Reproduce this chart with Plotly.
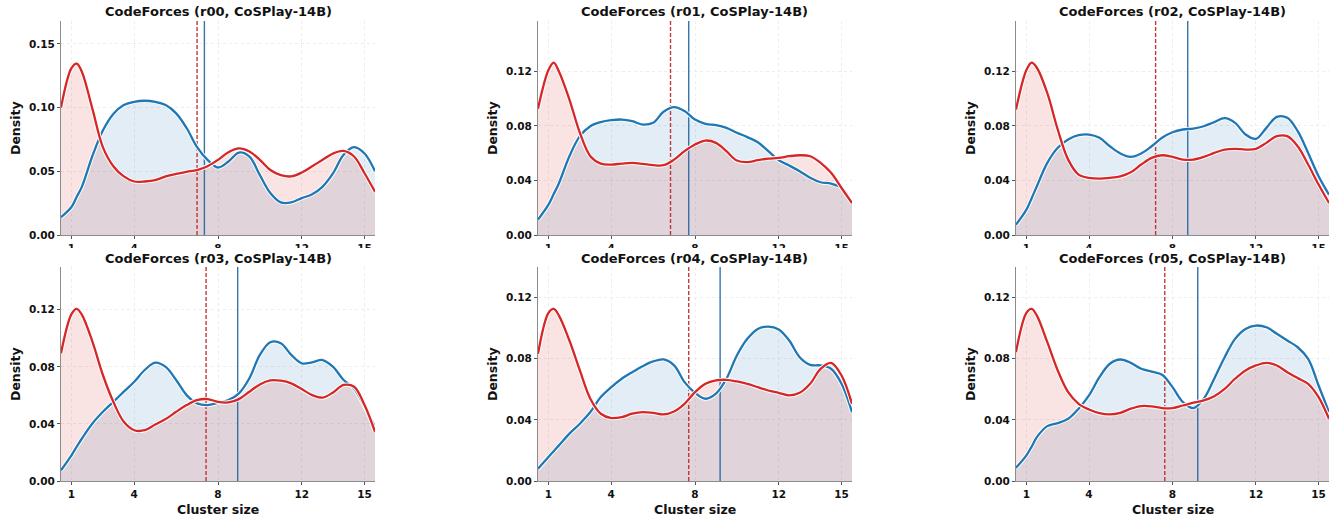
import plotly.graph_objects as go

# Evaluation grid of cluster sizes for the density curves
cluster_size = [0.5, 1.0, 1.25, 1.5, 2.0, 2.5, 3.0, 3.5, 4.0, 4.5, 5.0, 5.5, 6.0, 6.5, 7.0, 7.5, 8.0,
                8.5, 9.0, 9.5, 10.0, 10.5, 11.0, 11.5, 12.0, 12.5, 13.0, 13.5, 14.0, 14.5, 15.0, 15.5]

run_labels = ["r00", "r01", "r02", "r03", "r04", "r05"]

# Blue density curves, one per run
blue_r00 = [0.014, 0.022, 0.030, 0.038, 0.062, 0.082, 0.095, 0.102, 0.1046, 0.1054, 0.1046, 0.102,
            0.0955, 0.084, 0.069, 0.059, 0.053, 0.0577, 0.0647, 0.0616, 0.047, 0.033, 0.0256, 0.0256,
            0.029, 0.032, 0.038, 0.0485, 0.063, 0.069, 0.064, 0.050]
blue_r01 = [0.0113, 0.0223, 0.030, 0.038, 0.0578, 0.0725, 0.0798, 0.0828, 0.0842, 0.0847, 0.0835,
            0.081, 0.0823, 0.0904, 0.0938, 0.0909, 0.0847, 0.0816, 0.0806, 0.0786, 0.075, 0.0718,
            0.068, 0.0615, 0.0549, 0.051, 0.0468, 0.042, 0.0387, 0.0377, 0.0345, 0.0235]
blue_r02 = [0.0076, 0.0186, 0.027, 0.0358, 0.0529, 0.064, 0.070, 0.0732, 0.0737, 0.0713, 0.0651,
            0.0598, 0.0573, 0.0598, 0.0651, 0.0713, 0.0754, 0.0774, 0.0781, 0.0798, 0.0828, 0.0857,
            0.0823, 0.0737, 0.0705, 0.0786, 0.0867, 0.086, 0.0762, 0.0602, 0.0431, 0.0296]
blue_r03 = [0.0075, 0.018, 0.024, 0.0298, 0.0403, 0.0485, 0.0555, 0.0626, 0.0696, 0.0778, 0.083,
            0.080, 0.0708, 0.0602, 0.0544, 0.0532, 0.0548, 0.0567, 0.0614, 0.072, 0.0884, 0.0973,
            0.0966, 0.0884, 0.0825, 0.0832, 0.0848, 0.080, 0.0708, 0.0649, 0.052, 0.038]
blue_r04 = [0.008, 0.0157, 0.0195, 0.0233, 0.031, 0.0375, 0.0451, 0.0549, 0.0614, 0.0669, 0.0712,
            0.0751, 0.0782, 0.0795, 0.0756, 0.0647, 0.0577, 0.0538, 0.0571, 0.0669, 0.0821, 0.093,
            0.0995, 0.101, 0.0991, 0.0919, 0.081, 0.076, 0.0756, 0.0734, 0.0636, 0.0451]
blue_r05 = [0.0087, 0.0168, 0.0225, 0.0287, 0.0359, 0.0379, 0.0407, 0.0473, 0.056, 0.0679, 0.0767,
            0.0795, 0.0773, 0.0734, 0.0716, 0.0695, 0.0614, 0.0516, 0.0477, 0.0538, 0.0669, 0.081,
            0.093, 0.0995, 0.1017, 0.1006, 0.0963, 0.0919, 0.0875, 0.0799, 0.0625, 0.0451]

# Red density curves, one per run
red_r00 = [0.100, 0.131, 0.1346, 0.128, 0.099, 0.069, 0.054, 0.046, 0.042, 0.042, 0.043, 0.046,
           0.048, 0.0496, 0.051, 0.054, 0.059, 0.065, 0.068, 0.0655, 0.059, 0.051, 0.047, 0.046,
           0.049, 0.054, 0.059, 0.064, 0.066, 0.0616, 0.0485, 0.034]
red_r01 = [0.0926, 0.121, 0.1264, 0.120, 0.0994, 0.075, 0.0578, 0.0524, 0.0517, 0.0524, 0.0529,
           0.0522, 0.0512, 0.0512, 0.0553, 0.0615, 0.0664, 0.0693, 0.0676, 0.0615, 0.0546, 0.0534,
           0.0549, 0.056, 0.0566, 0.0578, 0.0585, 0.0578, 0.0529, 0.0456, 0.0345, 0.0235]
red_r02 = [0.092, 0.121, 0.1264, 0.1227, 0.104, 0.0774, 0.0553, 0.0443, 0.0419, 0.0414, 0.0419,
           0.043, 0.046, 0.0517, 0.0566, 0.0585, 0.0573, 0.0553, 0.0553, 0.0573, 0.0602, 0.0627,
           0.0632, 0.0627, 0.0632, 0.0676, 0.0725, 0.0725, 0.0651, 0.0517, 0.037, 0.0235]
red_r03 = [0.0895, 0.117, 0.1207, 0.1165, 0.0977, 0.0743, 0.0555, 0.0415, 0.0356, 0.0356, 0.0396,
           0.0434, 0.0485, 0.0532, 0.0567, 0.0574, 0.0555, 0.0551, 0.0574, 0.0626, 0.0677, 0.0705,
           0.0703, 0.0684, 0.0644, 0.0602, 0.0584, 0.0621, 0.0673, 0.0661, 0.0532, 0.0345]
red_r04 = [0.0832, 0.110, 0.1126, 0.1082, 0.0919, 0.0723, 0.0538, 0.044, 0.0412, 0.0418, 0.044,
           0.0451, 0.0446, 0.0436, 0.0455, 0.0505, 0.0581, 0.0636, 0.0658, 0.0662, 0.0651, 0.0636,
           0.0614, 0.0592, 0.0577, 0.056, 0.0577, 0.0636, 0.0734, 0.0773, 0.069, 0.0505]
red_r05 = [0.0843, 0.110, 0.1126, 0.1082, 0.0908, 0.0723, 0.0581, 0.0505, 0.0468, 0.0444, 0.0436,
           0.0446, 0.0473, 0.049, 0.0488, 0.0477, 0.0477, 0.0494, 0.0512, 0.0527, 0.0555, 0.0603,
           0.0669, 0.0723, 0.0756, 0.0773, 0.0756, 0.0712, 0.0673, 0.0636, 0.0549, 0.0407]

# Mean cluster size per run (vertical reference lines)
blue_mean = [7.35, 7.70, 8.73, 8.94, 9.20, 9.21]
red_mean = [7.00, 6.83, 7.19, 7.43, 7.70, 7.63]

# Upper limit of each density axis
density_top = [0.168, 0.157, 0.157, 0.150, 0.140, 0.140]
density_ticks = [[0.0, 0.05, 0.10, 0.15]] + [[0.0, 0.04, 0.08, 0.12]] * 5
size_ticks = [1, 4, 8, 12, 15]

blue_series = [blue_r00, blue_r01, blue_r02, blue_r03, blue_r04, blue_r05]
red_series = [red_r00, red_r01, red_r02, red_r03, red_r04, red_r05]

W, H = 1343, 523
BLUE = "#1f77b4"
RED = "#d62728"
FONT = "DejaVu Sans"

# Plot-area boxes in pixels: (left, right) per column, (top, bottom) per row
col_px = [(61, 375), (538, 852), (1016, 1329)]
row_px = [(21, 235), (267, 481)]

fig = go.Figure()
annotations = []

for i in range(6):
    r, c = divmod(i, 3)
    n = i + 1
    xa = "x" if n == 1 else f"x{n}"
    ya = "y" if n == 1 else f"y{n}"
    (xl, xr), (yt, yb) = col_px[c], row_px[r]
    xdom = [xl / W, xr / W]
    ydom = [1 - yb / H, 1 - yt / H]

    # filled areas first so that every outline stays on top
    fig.add_trace(go.Scatter(x=cluster_size, y=blue_series[i], mode="lines", fill="tozeroy",
                             fillcolor="rgba(31,119,180,0.13)", line=dict(width=0, shape="spline"),
                             hoverinfo="skip", showlegend=False, xaxis=xa, yaxis=ya))
    fig.add_trace(go.Scatter(x=cluster_size, y=red_series[i], mode="lines", fill="tozeroy",
                             fillcolor="rgba(214,39,40,0.13)", line=dict(width=0, shape="spline"),
                             hoverinfo="skip", showlegend=False, xaxis=xa, yaxis=ya))

    # mean markers
    fig.add_trace(go.Scatter(x=[red_mean[i], red_mean[i]], y=[0, density_top[i]], mode="lines",
                             line=dict(color="rgba(190,35,35,0.9)", width=1.4, dash="4px,2px"),
                             showlegend=False, xaxis=xa, yaxis=ya))
    fig.add_trace(go.Scatter(x=[blue_mean[i], blue_mean[i]], y=[0, density_top[i]], mode="lines",
                             line=dict(color="rgba(31,100,160,0.9)", width=1.4),
                             showlegend=False, xaxis=xa, yaxis=ya))

    # density outlines with a thin white halo
    for ys, col in ((blue_series[i], BLUE), (red_series[i], RED)):
        fig.add_trace(go.Scatter(x=cluster_size, y=ys, mode="lines",
                                 line=dict(color="white", width=4.2, shape="spline"),
                                 hoverinfo="skip", showlegend=False, xaxis=xa, yaxis=ya))
        fig.add_trace(go.Scatter(x=cluster_size, y=ys, mode="lines",
                                 line=dict(color=col, width=2.3, shape="spline"),
                                 showlegend=False, xaxis=xa, yaxis=ya))

    axis_common = dict(showline=True, linecolor="#8c8c8c", linewidth=1.1, ticks="outside",
                       ticklen=3, tickwidth=1, tickcolor="#555555", showgrid=True,
                       gridcolor="#ededed", griddash="dot", gridwidth=0.8, zeroline=False,
                       automargin=False,
                       tickfont=dict(family=FONT, size=10.5, color="#111111", weight="bold"))
    fig.layout[("xaxis" if n == 1 else f"xaxis{n}")] = dict(
        domain=xdom, anchor=ya, range=[0.5, 15.5], tickvals=size_ticks, **axis_common)
    fig.layout[("yaxis" if n == 1 else f"yaxis{n}")] = dict(
        domain=ydom, anchor=xa, range=[0, density_top[i]], tickvals=density_ticks[i],
        tickformat=".2f", **axis_common)

    xc = (xl + xr) / 2 / W
    title_y = 11.5 if r == 0 else 258
    annotations.append(dict(text=f"CodeForces ({run_labels[i]}, CoSPlay-14B)", x=xc,
                            y=1 - title_y / H, xref="paper", yref="paper", showarrow=False,
                            xanchor="center", yanchor="middle",
                            font=dict(family=FONT, size=13, color="#111111", weight="bold")))
    annotations.append(dict(text="Density", x=(xl - 46) / W, y=1 - (yt + yb) / 2 / H,
                            xref="paper", yref="paper", showarrow=False, textangle=-90,
                            xanchor="center", yanchor="middle",
                            font=dict(family=FONT, size=12.5, color="#111111", weight="bold")))
    if r == 1:
        annotations.append(dict(text="Cluster size", x=xc, y=1 - 509 / H, xref="paper",
                                yref="paper", showarrow=False, xanchor="center",
                                yanchor="middle",
                                font=dict(family=FONT, size=12.5, color="#111111",
                                          weight="bold")))

fig.update_layout(
    width=W, height=H,
    margin=dict(l=0, r=0, t=0, b=0),
    paper_bgcolor="white", plot_bgcolor="white",
    showlegend=False,
    annotations=annotations,
    # the two rows are separated by a thin white band that trims the upper tick labels
    shapes=[dict(type="rect", xref="paper", yref="paper", x0=0, x1=1,
                 y0=1 - 253 / H, y1=1 - 248 / H, fillcolor="white", line=dict(width=0),
                 layer="above")],
)

fig.write_html("out.html")
